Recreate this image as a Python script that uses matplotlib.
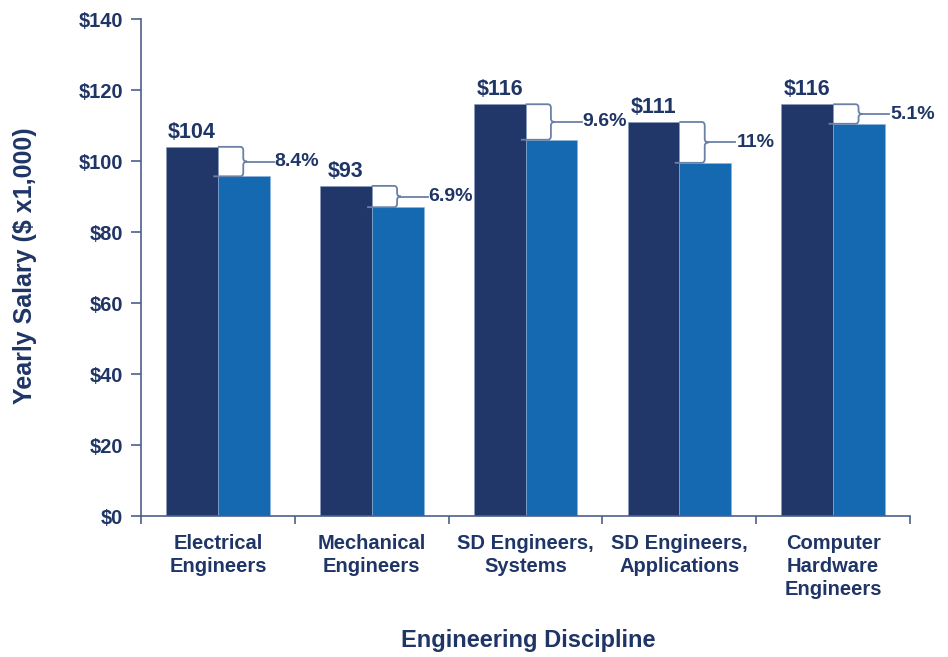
import matplotlib
matplotlib.use("Agg")
import matplotlib.pyplot as plt
from matplotlib.path import Path
from matplotlib.patches import PathPatch
import numpy as np

categories = ["Electrical\nEngineers", "Mechanical\nEngineers", "SD Engineers,\nSystems",
              "SD Engineers,\nApplications", "Computer\nHardware\nEngineers"]
salary_high = [104, 93, 116, 111, 116]
salary_low = [95.7, 87, 106, 99.5, 110.5]
gap_labels = ["8.4%", "6.9%", "9.6%", "11%", "5.1%"]
value_labels = ["$104", "$93", "$116", "$111", "$116"]
yticks = [0, 20, 40, 60, 80, 100, 120, 140]

NAVY = "#21376a"
BLUE = "#1569b0"
TEXT = "#1f3566"
SPINE = "#4d5f8a"
BRACE = "#6b80a6"

plt.rcParams["font.family"] = ["Liberation Sans", "DejaVu Sans"]
plt.rcParams["font.weight"] = "bold"

fig = plt.figure(figsize=(9.48, 6.57), dpi=100)
ax = fig.add_axes([0.1487, 0.2146, 0.8113, 0.7564])

x = np.arange(len(categories))
w = 0.337
ax.bar(x - w / 2, salary_high, width=w, color=NAVY, edgecolor="#8a9bbd", linewidth=0.4, zorder=2)
ax.bar(x + w / 2, salary_low, width=w, color=BLUE, edgecolor="#8fb3d9", linewidth=0.4, zorder=2)

for i, (hi, lo, lab, val) in enumerate(zip(salary_high, salary_low, gap_labels, value_labels)):
    ax.text(i - w / 2, hi + 1.2, val, ha="center", va="bottom", fontsize=15.5,
            fontweight="bold", color=TEXT)
    # curly brace spanning the gap between the two bars
    x0 = i
    xv = i + 0.165
    xt = i + 0.19
    xe = i + 0.365
    rx, ry = 0.02, 1.0
    m = (hi + lo) / 2
    verts = [
        (x0, hi), (xv - rx, hi), (xv, hi), (xv, hi - ry),
        (xv, m + ry), (xv, m), (xt, m),
        (xv, m), (xv, m - ry),
        (xv, lo + ry), (xv, lo), (xv - rx, lo), (x0 - 0.03, lo),
    ]
    codes = [
        Path.MOVETO, Path.LINETO, Path.CURVE3, Path.CURVE3,
        Path.LINETO, Path.CURVE3, Path.CURVE3,
        Path.CURVE3, Path.CURVE3,
        Path.LINETO, Path.CURVE3, Path.CURVE3, Path.LINETO,
    ]
    ax.add_patch(PathPatch(Path(verts, codes), facecolor="none", edgecolor=BRACE,
                           linewidth=1.3, zorder=3))
    ax.plot([xt, xe], [m, m], color=BRACE, linewidth=1.3, zorder=3)
    ax.text(xe + 0.005, m, lab, ha="left", va="center", fontsize=14,
            fontweight="bold", color=TEXT)

ax.set_xlim(-0.5, len(categories) - 0.5)
ax.set_ylim(0, 140)
ax.set_yticks(yticks)
ax.set_yticklabels([f"${v}" for v in yticks], fontsize=14.5, fontweight="bold", color=TEXT)

ax.set_xticks(np.arange(-0.5, len(categories), 1.0))
ax.set_xticklabels([])
ax.set_xticks(x, minor=True)
ax.set_xticklabels(categories, minor=True, fontsize=14.5, fontweight="bold", color=TEXT,
                   linespacing=1.25, va="top")
ax.tick_params(axis="x", which="minor", length=0, pad=13)
ax.tick_params(axis="x", which="major", length=6, width=1.2, color=SPINE, direction="out")
ax.tick_params(axis="y", length=7, width=1.2, color=SPINE, direction="out", pad=6)

for s in ["top", "right"]:
    ax.spines[s].set_visible(False)
for s in ["left", "bottom"]:
    ax.spines[s].set_color(SPINE)
    ax.spines[s].set_linewidth(1.2)

fig.text(25 / 948, 1 - 266 / 657, "Yearly Salary ($ x1,000)", rotation=90, ha="center",
         va="center", fontsize=18, fontweight="bold", color=TEXT)
fig.text(528 / 948, 1 - 641 / 657, "Engineering Discipline", ha="center", va="center",
         fontsize=17, fontweight="bold", color=TEXT)

fig.savefig("out.png", dpi=100)
